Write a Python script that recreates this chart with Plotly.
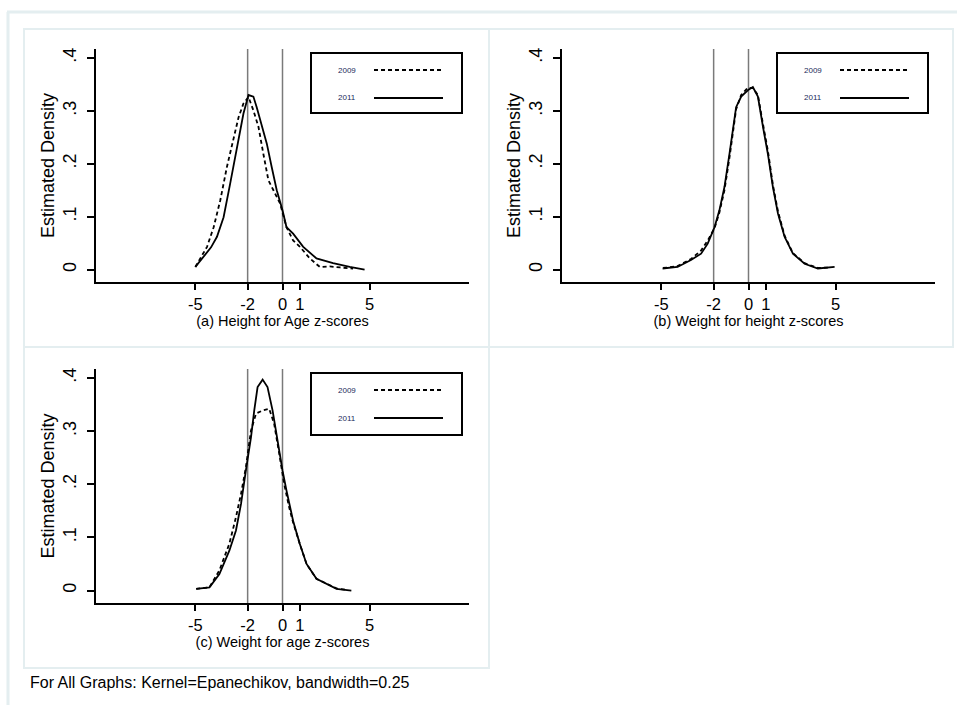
import plotly.graph_objects as go

W, H = 957, 705

# ---------------- data ----------------
# Panel (a) Height for Age z-scores
a2011_x = [-5, -4.52, -4.1, -3.76, -3.38, -3.0, -2.62, -2.24, -1.95, -1.67, -1.48, -1.19,
           -0.9, -0.62, -0.33, 0, 0.23, 0.61, 1.19, 1.95, 2.9, 3.86, 4.71]
a2011_y = [0.005, 0.024, 0.042, 0.062, 0.099, 0.163, 0.232, 0.295, 0.33, 0.327, 0.307, 0.27,
           0.238, 0.194, 0.15, 0.112, 0.08, 0.068, 0.043, 0.021, 0.012, 0.005, 0.0]
a2009_x = [-5, -4.33, -3.95, -3.57, -3.19, -2.81, -2.52, -2.24, -1.95, -1.67, -1.38, -1.1,
           -0.81, -0.52, -0.14, 0.23, 0.61, 1.0, 1.57, 2.14, 2.71, 3.3, 4.05]
a2009_y = [0.005, 0.043, 0.08, 0.131, 0.194, 0.25, 0.288, 0.314, 0.326, 0.301, 0.27, 0.219,
           0.169, 0.15, 0.125, 0.08, 0.055, 0.043, 0.021, 0.005, 0.006, 0.004, 0.002]

# Panel (b) Weight for height z-scores
b2011_x = [-4.93, -4.07, -3.3, -2.72, -2.34, -1.95, -1.67, -1.38, -1.09, -0.9, -0.71, -0.42,
           -0.04, 0.25, 0.54, 0.83, 1.11, 1.4, 1.69, 2.07, 2.55, 3.22, 3.98, 4.94]
b2011_y = [0.002, 0.005, 0.018, 0.03, 0.049, 0.08, 0.112, 0.156, 0.219, 0.263, 0.307, 0.327,
           0.339, 0.345, 0.327, 0.27, 0.219, 0.156, 0.106, 0.062, 0.03, 0.011, 0.002, 0.005]
b2009_x = [-4.9, -4.1, -3.3, -2.72, -2.34, -1.95, -1.67, -1.38, -1.09, -0.9, -0.71, -0.42,
           -0.04, 0.25, 0.54, 0.83, 1.11, 1.4, 1.69, 2.07, 2.55, 3.22, 3.98, 4.7]
b2009_y = [0.003, 0.006, 0.02, 0.036, 0.055, 0.078, 0.108, 0.15, 0.212, 0.258, 0.303, 0.33,
           0.344, 0.343, 0.33, 0.275, 0.225, 0.16, 0.11, 0.064, 0.031, 0.012, 0.003, 0.004]

# Panel (c) Weight for age z-scores
c2011_x = [-4.95, -4.19, -3.62, -3.05, -2.67, -2.38, -2.1, -1.81, -1.62, -1.43, -1.14, -0.86,
           -0.57, -0.29, 0, 0.23, 0.61, 0.99, 1.38, 1.95, 2.52, 3.1, 3.95]
c2011_y = [0.003, 0.006, 0.031, 0.075, 0.113, 0.163, 0.226, 0.288, 0.339, 0.383, 0.397, 0.383,
           0.339, 0.283, 0.226, 0.188, 0.131, 0.088, 0.05, 0.022, 0.013, 0.003, 0.0]
c2009_x = [-4.95, -4.19, -3.62, -3.05, -2.67, -2.38, -2.1, -1.81, -1.52, -1.14, -0.76, -0.48,
           -0.19, 0.1, 0.38, 0.61, 0.99, 1.38, 1.95, 2.52, 3.1, 3.7]
c2009_y = [0.003, 0.006, 0.038, 0.088, 0.138, 0.182, 0.232, 0.301, 0.333, 0.339, 0.342, 0.314,
           0.258, 0.2, 0.157, 0.128, 0.088, 0.05, 0.022, 0.013, 0.004, 0.001]

x_tickvals = [-5, -2, 0, 1, 5]
x_ticktext = ["-5", "-2", "0", "1", "5"]
y_tickvals = [0, 0.1, 0.2, 0.3, 0.4]
y_ticktext = ["0", ".1", ".2", ".3", ".4"]
ref_lines = [-2, 0]
series_names = ["2009", "2011"]
x_titles = ["(a) Height for Age z-scores", "(b) Weight for height z-scores",
            "(c) Weight for age z-scores"]
y_title = "Estimated Density"
footer = "For All Graphs: Kernel=Epanechikov, bandwidth=0.25"

FONT = "Liberation Sans, Arial, sans-serif"
DASH = "4px,3px"


def px(x):
    return x / W


def py(y):
    return 1 - y / H


panels = [
    dict(ax="", xd=[96, 469], yd=[282, 49], d09=(a2009_x, a2009_y), d11=(a2011_x, a2011_y),
         leg=(311, 53, 462, 113)),
    dict(ax="2", xd=[562, 935], yd=[282, 49], d09=(b2009_x, b2009_y), d11=(b2011_x, b2011_y),
         leg=(777, 53, 928, 113)),
    dict(ax="3", xd=[96, 469], yd=[603, 369], d09=(c2009_x, c2009_y), d11=(c2011_x, c2011_y),
         leg=(311, 373, 462, 435)),
]

fig = go.Figure()
layout = dict(
    width=W, height=H, autosize=False,
    margin=dict(l=0, r=0, t=0, b=0),
    paper_bgcolor="white", plot_bgcolor="white",
    showlegend=False,
    font=dict(family=FONT, color="black"),
)
shapes = []
annotations = []

# background frames (light)
FRAME = "#e4eef0"
shapes.append(dict(type="line", xref="paper", yref="paper", x0=px(7), x1=px(957),
                   y0=py(12), y1=py(12), line=dict(color=FRAME, width=3)))
shapes.append(dict(type="line", xref="paper", yref="paper", x0=px(8), x1=px(8),
                   y0=py(12), y1=py(705), line=dict(color=FRAME, width=3)))
for (x0, y0, x1, y1) in [(24, 29, 489, 347), (489, 29, 953, 347), (24, 347, 489, 668)]:
    shapes.append(dict(type="rect", xref="paper", yref="paper", x0=px(x0), x1=px(x1),
                       y0=py(y1), y1=py(y0), line=dict(color=FRAME, width=2)))

for i, p in enumerate(panels):
    ax = p["ax"]
    xa = "x" + ax
    ya = "y" + ax
    # curves
    fig.add_trace(go.Scatter(x=p["d09"][0], y=p["d09"][1], mode="lines", name=series_names[0],
                             xaxis=xa, yaxis=ya,
                             line=dict(color="black", width=1.8, dash=DASH)))
    fig.add_trace(go.Scatter(x=p["d11"][0], y=p["d11"][1], mode="lines", name=series_names[1],
                             xaxis=xa, yaxis=ya,
                             line=dict(color="black", width=1.8)))
    xkey = "xaxis" + ax
    ykey = "yaxis" + ax
    layout[xkey] = dict(
        domain=[px(p["xd"][0]), px(p["xd"][1])], anchor=ya, range=[-10.7, 10.7],
        showline=True, linecolor="black", linewidth=2, showgrid=False, zeroline=False,
        ticks="outside", ticklen=6, tickwidth=1.5, tickcolor="black",
        tickvals=x_tickvals, ticktext=x_ticktext,
        tickfont=dict(family=FONT, size=16.5, color="black"),
        title=dict(text=x_titles[i], font=dict(family=FONT, size=14.5, color="black"), standoff=0),
    )
    layout[ykey] = dict(
        domain=[py(p["yd"][0]), py(p["yd"][1])], anchor=xa, range=[-0.0235, 0.417],
        showline=True, linecolor="black", linewidth=2, showgrid=False, zeroline=False,
        ticks="outside", ticklen=7, tickwidth=1.5, tickcolor="black",
        tickvals=y_tickvals, ticktext=y_ticktext, tickangle=-90, ticklabelstandoff=4,
        tickfont=dict(family=FONT, size=18, color="black"),
        title=dict(text=y_title, font=dict(family=FONT, size=18, color="black"), standoff=0),
    )
    # reference lines
    for v in ref_lines:
        shapes.append(dict(type="line", xref=xa, yref=ya + " domain", x0=v, x1=v, y0=0, y1=1,
                           line=dict(color="#7a7a7a", width=1.5), layer="below"))
    # legend box
    lx0, ly0, lx1, ly1 = p["leg"]
    shapes.append(dict(type="rect", xref="paper", yref="paper", x0=px(lx0), x1=px(lx1),
                       y0=py(ly1), y1=py(ly0), line=dict(color="black", width=2),
                       fillcolor="white"))
    rows = [ly0 + 17, ly0 + 45]
    for k, yy in enumerate(rows):
        annotations.append(dict(xref="paper", yref="paper", x=px(lx0 + 36), y=py(yy),
                                text=series_names[k], showarrow=False, xanchor="center",
                                yanchor="middle",
                                font=dict(family=FONT, size=8, color="#1a2a5a")))
        shapes.append(dict(type="line", xref="paper", yref="paper",
                           x0=px(lx0 + 63), x1=px(lx0 + 132), y0=py(yy), y1=py(yy),
                           line=dict(color="black", width=2 if k else 2.2,
                                     dash=DASH if k == 0 else "solid")))

annotations.append(dict(xref="paper", yref="paper", x=px(28), y=py(682), text=footer,
                        showarrow=False, xanchor="left", yanchor="middle",
                        font=dict(family=FONT, size=16, color="black")))

layout["shapes"] = shapes
layout["annotations"] = annotations
fig.update_layout(**layout)
fig.write_html("out.html", config={"displayModeBar": False},
               post_script="document.body.style.margin='0';")
